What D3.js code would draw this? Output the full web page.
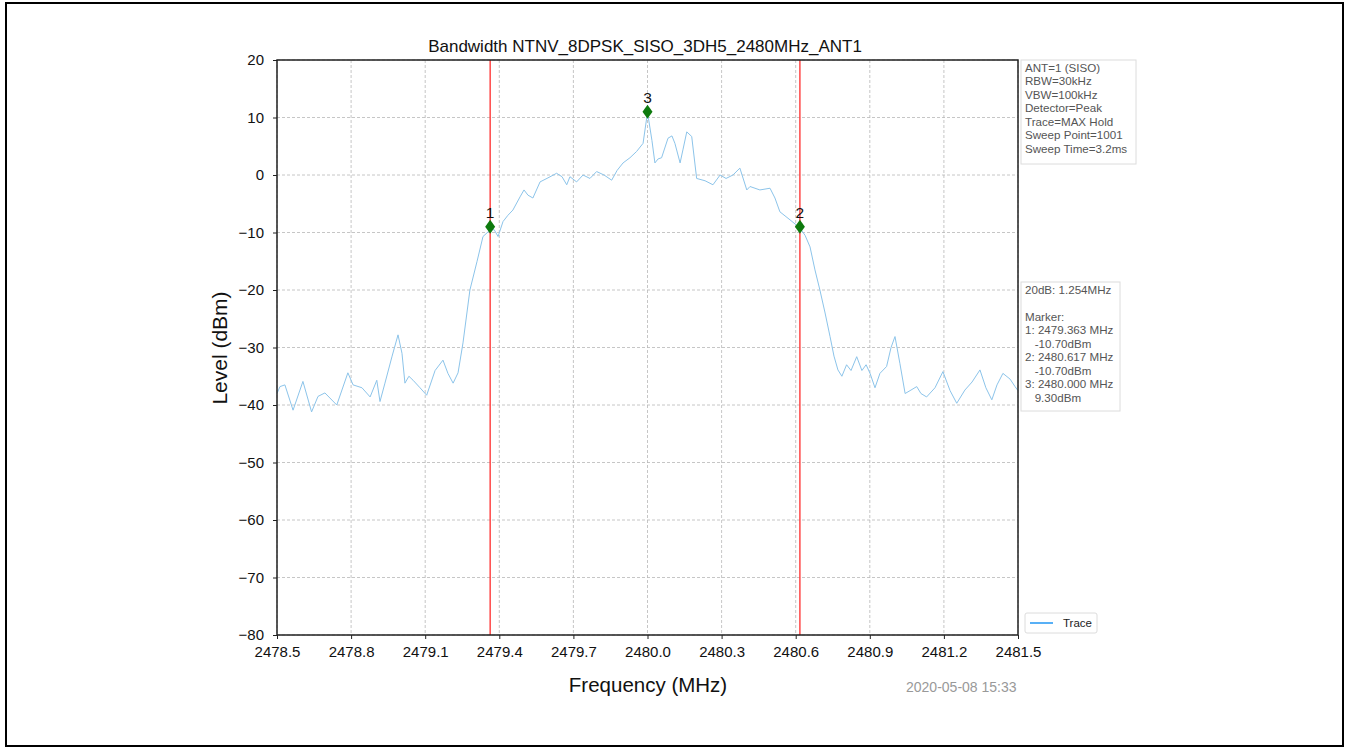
<!DOCTYPE html>
<html><head><meta charset="utf-8">
<script src="https://cdn.jsdelivr.net/npm/d3@7/dist/d3.min.js"></script>
<style>
html,body{margin:0;padding:0;background:#fff;}
text{font-family:"Liberation Sans",Arial,sans-serif;}
</style></head>
<body><svg id="c" width="1348" height="749"></svg>
<script>
const title = "Bandwidth NTNV_8DPSK_SISO_3DH5_2480MHz_ANT1";
const xTicks = [2478.5,2478.8,2479.1,2479.4,2479.7,2480.0,2480.3,2480.6,2480.9,2481.2,2481.5];
const yTicks = [20,10,0,-10,-20,-30,-40,-50,-60,-70,-80];
const traceFreq = [2478.500,2478.512,2478.532,2478.565,2478.605,2478.640,2478.666,2478.694,2478.742,2478.787,2478.808,2478.844,2478.877,2478.904,2478.917,2478.937,2478.966,2478.990,2479.006,2479.018,2479.034,2479.051,2479.079,2479.106,2479.140,2479.172,2479.192,2479.213,2479.233,2479.253,2479.281,2479.310,2479.334,2479.362,2479.379,2479.395,2479.415,2479.435,2479.455,2479.484,2479.500,2479.516,2479.536,2479.565,2479.597,2479.632,2479.654,2479.673,2479.686,2479.713,2479.739,2479.767,2479.794,2479.824,2479.855,2479.877,2479.901,2479.929,2479.956,2479.982,2480.000,2480.018,2480.030,2480.043,2480.057,2480.083,2480.099,2480.111,2480.132,2480.144,2480.159,2480.179,2480.199,2480.233,2480.265,2480.294,2480.318,2480.346,2480.374,2480.402,2480.415,2480.455,2480.496,2480.516,2480.536,2480.577,2480.617,2480.638,2480.658,2480.678,2480.698,2480.719,2480.739,2480.755,2480.771,2480.787,2480.806,2480.824,2480.847,2480.868,2480.885,2480.901,2480.921,2480.941,2480.968,2480.986,2481.002,2481.022,2481.043,2481.063,2481.090,2481.107,2481.130,2481.164,2481.196,2481.225,2481.252,2481.285,2481.314,2481.346,2481.370,2481.394,2481.415,2481.439,2481.468,2481.488,2481.500];
const traceLevel = [-38.0,-36.8,-36.5,-40.9,-35.9,-41.2,-38.5,-37.9,-40.0,-34.4,-36.5,-37.0,-38.6,-35.7,-39.4,-36.2,-31.5,-27.8,-31.0,-36.2,-35.0,-35.7,-37.0,-38.3,-34.0,-32.2,-34.5,-36.2,-34.4,-29.2,-20.0,-15.0,-10.7,-9.6,-9.5,-10.7,-8.1,-7.0,-6.1,-3.8,-2.6,-3.5,-4.0,-1.2,-0.5,0.3,-0.3,-1.7,-0.3,-1.2,0.0,-0.6,0.6,0.0,-0.9,0.8,2.1,3.0,4.1,5.5,10.9,6.0,2.1,2.8,3.0,6.4,6.8,5.5,2.1,4.5,7.5,6.7,-0.6,-1.0,-1.7,0.0,-0.6,0.0,1.2,-2.6,-2.0,-2.6,-2.3,-4.0,-6.4,-7.8,-9.2,-10.5,-12.5,-16.5,-20.0,-24.0,-28.1,-31.5,-33.9,-35.0,-33.0,-34.0,-31.6,-34.0,-33.0,-34.5,-37.0,-34.5,-33.3,-30.0,-28.1,-32.8,-38.0,-37.5,-36.8,-38.0,-38.6,-37.0,-34.2,-37.5,-39.7,-37.4,-36.0,-33.9,-37.0,-39.1,-36.5,-34.5,-35.5,-36.8,-37.5];
const markerNames = ["1","2","3"];
const markerFreq = [2479.363,2480.617,2480.000];
const markerLevel = [-9.0,-9.0,11.0];
const infoLines = ["ANT=1 (SISO)","RBW=30kHz","VBW=100kHz","Detector=Peak","Trace=MAX Hold","Sweep Point=1001","Sweep Time=3.2ms"];
const resultLines = ["20dB: 1.254MHz","","Marker:","1: 2479.363 MHz","   -10.70dBm","2: 2480.617 MHz","   -10.70dBm","3: 2480.000 MHz","   9.30dBm"];
const xLabel = "Frequency (MHz)";
const yLabel = "Level (dBm)";
const legendLabel = "Trace";
const stamp = "2020-05-08 15:33";

const svg = d3.select("#c");
const L=277,R=1018,T=60,B=635;
const x = d3.scaleLinear().domain([2478.5,2481.5]).range([L,R]);
const y = d3.scaleLinear().domain([-80,20]).range([B,T]);

// outer frame
svg.append("rect").attr("x",6).attr("y",3).attr("width",1337).attr("height",743)
  .attr("fill","#fff").attr("stroke","#000").attr("stroke-width",2);

// grid
const g = svg.append("g");
g.selectAll(".vg").data(xTicks).join("line")
  .attr("x1",d=>x(d)).attr("x2",d=>x(d)).attr("y1",T).attr("y2",B)
  .attr("stroke","#b8b8b8").attr("stroke-width",0.8).attr("stroke-dasharray","3,2");
g.selectAll(".hg").data(yTicks).join("line")
  .attr("x1",L).attr("x2",R).attr("y1",d=>y(d)).attr("y2",d=>y(d))
  .attr("stroke","#b8b8b8").attr("stroke-width",0.8).attr("stroke-dasharray","3,2");

// trace
const pts = traceFreq.map((f,i)=>[f,traceLevel[i]]);
svg.append("path").datum(pts)
  .attr("d",d3.line().x(d=>x(d[0])).y(d=>y(d[1])))
  .attr("fill","none").attr("stroke","#8cc4ea").attr("stroke-width",1);

// red lines
svg.selectAll(".rl").data(markerFreq.slice(0,2)).join("line")
  .attr("x1",d=>x(d)).attr("x2",d=>x(d)).attr("y1",T).attr("y2",B)
  .attr("stroke","#ff3b3b").attr("stroke-width",1.4);

// markers
const mk = svg.selectAll(".mk").data(markerFreq).join("g")
  .attr("transform",(d,i)=>`translate(${x(d)},${y(markerLevel[i])})`);
mk.append("path").attr("d","M0,-7L5,0L0,7L-5,0Z").attr("fill","#0d7a0d");
mk.append("text").attr("y",-9).attr("text-anchor","middle").attr("font-size",15.5)
  .attr("fill","#111").text((d,i)=>markerNames[i]);

// axes
const xa = svg.append("g").attr("transform",`translate(0,${B})`)
  .call(d3.axisBottom(x).tickValues(xTicks).tickFormat(d3.format(".1f")).tickSize(4).tickPadding(7));
const ya = svg.append("g").attr("transform",`translate(${L},0)`)
  .call(d3.axisLeft(y).tickValues(yTicks).tickFormat(d3.format("d")).tickSize(4).tickPadding(9));
[xa,ya].forEach(a=>{
  a.select(".domain").remove();
  a.selectAll("line").attr("stroke","#222").attr("stroke-width",1);
  a.selectAll("text").attr("font-size",15).attr("fill","#111").attr("font-family","Liberation Sans, Arial, sans-serif");
});
ya.selectAll("text").text(d=>d<0?"\u2212"+Math.abs(d):d);
svg.append("rect").attr("x",L).attr("y",T).attr("width",R-L).attr("height",B-T)
  .attr("fill","none").attr("stroke","#222").attr("stroke-width",1.5);

// labels
svg.append("text").attr("x",645).attr("y",52).attr("text-anchor","middle").attr("font-size",17).attr("fill","#111").text(title);
svg.append("text").attr("x",648).attr("y",692).attr("text-anchor","middle").attr("font-size",20.5).attr("fill","#111").text(xLabel);
svg.append("text").attr("transform","translate(227,348) rotate(-90)").attr("text-anchor","middle").attr("font-size",21).attr("fill","#111").text(yLabel);
svg.append("text").attr("x",906).attr("y",692).attr("text-anchor","start").attr("font-size",14).attr("fill","#999").text(stamp);

// info box
function box(lines,x0,y0,w,h){
  svg.append("rect").attr("x",x0).attr("y",y0).attr("width",w).attr("height",h)
    .attr("fill","#fff").attr("stroke","#dcdcdc").attr("stroke-width",1);
  svg.append("g").selectAll("text").data(lines).join("text")
    .attr("x",x0+4).attr("y",(d,i)=>y0+11.5+i*13.5).attr("font-size",11.6).attr("fill","#555")
    .attr("xml:space","preserve").style("white-space","pre").text(d=>d);
}
box(infoLines,1021,60,115,104);
box(resultLines,1021,282,99,129);

// legend
svg.append("rect").attr("x",1025).attr("y",613).attr("width",72).attr("height",20).attr("rx",2)
  .attr("fill","#fff").attr("stroke","#dcdcdc");
svg.append("line").attr("x1",1030).attr("x2",1053).attr("y1",623).attr("y2",623).attr("stroke","#2196f3").attr("stroke-width",1.5);
svg.append("text").attr("x",1063).attr("y",627).attr("font-size",11.5).attr("fill","#222").text(legendLabel);
</script></body></html>
